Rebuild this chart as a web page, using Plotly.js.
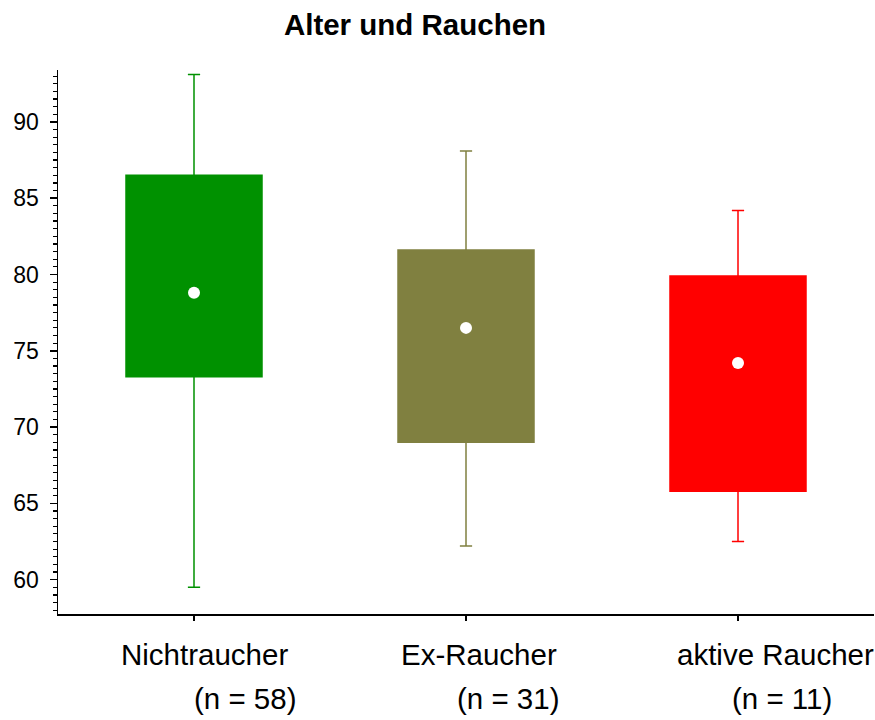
<!DOCTYPE html>
<html>
<head>
<meta charset="utf-8">
<script src="https://cdn.plot.ly/plotly-3.0.1.min.js"></script>
<style>
  html, body { margin: 0; padding: 0; background: #ffffff; }
  #chart { width: 875px; height: 720px; }
</style>
</head>
<body>
<div id="chart"></div>
<script>
// Age (years) by smoking status: box = quartiles, whiskers = range, dot = mean
const groups = ["Nichtraucher", "Ex-Raucher", "aktive Raucher"];
const counts = [58, 31, 11];
const q1Values = [73.3, 69.0, 65.8];
const q3Values = [86.5, 81.6, 79.9];
const minValues = [59.5, 62.2, 62.5];
const maxValues = [93.1, 88.1, 84.2];
const meanValues = [78.8, 76.5, 74.2];
const groupColors = ["#009100", "#808040", "#ff0000"];

const FONT = "Arial, 'Liberation Sans', Helvetica, sans-serif";

const traces = groups.map((g, i) => ({
  type: "box",
  x: [g],
  q1: [q1Values[i]],
  median: [meanValues[i]],
  q3: [q3Values[i]],
  lowerfence: [minValues[i]],
  upperfence: [maxValues[i]],
  boxpoints: false,
  width: 0.5,
  whiskerwidth: 0.09,
  fillcolor: groupColors[i],
  line: { color: groupColors[i], width: 1.5 },
  showlegend: false,
  hoverinfo: "skip"
}));

traces.push({
  type: "scatter",
  mode: "markers",
  x: groups,
  y: meanValues,
  marker: { color: "#ffffff", size: 12 },
  showlegend: false,
  hoverinfo: "skip"
});

// Category captions below the axis, with group sizes on a second row
const nameShift = [0.037, 0.048, 0.138];
const countShift = [0.188, 0.158, 0.162];
const annotations = [];
groups.forEach((g, i) => {
  annotations.push({
    xref: "x", yref: "paper", x: i + nameShift[i], y: -0.074,
    text: g, showarrow: false, xanchor: "center", yanchor: "middle",
    font: { family: FONT, size: 29.5, color: "#000000" }
  });
  annotations.push({
    xref: "x", yref: "paper", x: i + countShift[i], y: -0.156,
    text: "(n = " + counts[i] + ")", showarrow: false, xanchor: "center", yanchor: "middle",
    font: { family: FONT, size: 29.5, color: "#000000" }
  });
});

const layout = {
  width: 875,
  height: 720,
  paper_bgcolor: "#ffffff",
  plot_bgcolor: "#ffffff",
  margin: { l: 58, r: 1, t: 70, b: 106 },
  font: { family: FONT, color: "#000000" },
  title: {
    text: "<b>Alter und Rauchen</b>",
    font: { family: FONT, size: 29.5, color: "#000000" },
    xref: "container", yref: "container",
    x: 415 / 875, xanchor: "center",
    y: 1 - 25 / 720, yanchor: "middle"
  },
  xaxis: {
    type: "category",
    range: [-0.5, 2.5],
    showline: true, linecolor: "#000000", linewidth: 1.5,
    ticks: "outside", ticklen: 5, tickwidth: 1.5, tickcolor: "#000000",
    showticklabels: false,
    showgrid: false, zeroline: false, fixedrange: true
  },
  yaxis: {
    range: [57.75, 93.4],
    tickvals: [60, 65, 70, 75, 80, 85, 90],
    showline: true, linecolor: "#000000", linewidth: 1.5,
    ticks: "outside", ticklen: 7, tickwidth: 1.5, tickcolor: "#000000",
    tickfont: { family: FONT, size: 23, color: "#000000" },
    ticklabelstandoff: 6,
    minor: { dtick: 0.5, tick0: 60, ticks: "outside", ticklen: 4, tickwidth: 1.2, tickcolor: "#000000", showgrid: false },
    showgrid: false, zeroline: false, fixedrange: true
  },
  annotations: annotations
};

Plotly.newPlot("chart", traces, layout, { staticPlot: true, displayModeBar: false });
</script>
</body>
</html>
